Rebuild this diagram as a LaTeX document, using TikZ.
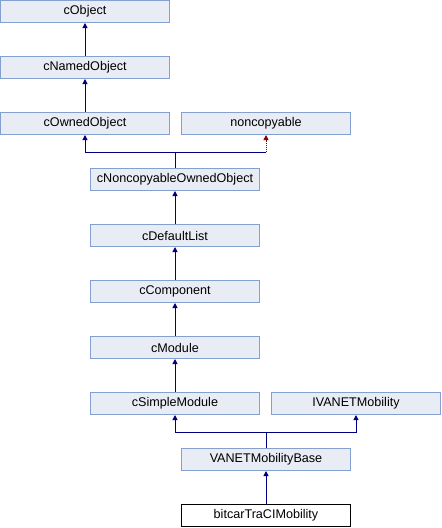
\documentclass[tikz,border=0pt]{standalone}
\usepackage{fontspec}
\setmainfont{Liberation Sans}
\usetikzlibrary{arrows.meta}
\definecolor{boxfill}{HTML}{E8ECF4}
\definecolor{boxline}{HTML}{84A0D0}
\definecolor{publine}{HTML}{000080}
\definecolor{privline}{HTML}{8B0000}
\tikzset{
    cls/.style={draw=boxline,fill=boxfill,line width=1pt,minimum width=169pt,minimum height=22pt,inner sep=0pt,font=\fontsize{12.6}{15}\selectfont},
    leaf/.style={cls,draw=black,fill=white},
    pub/.style={draw=publine,line width=1pt,-{Triangle[length=5pt,width=5pt]}},
    priv/.style={draw=privline,line width=1pt,densely dotted,-{Triangle[length=5pt,width=5pt]}}
}

\begin{document}
\begin{tikzpicture}[x=1pt,y=-1pt]
        \useasboundingbox (0,0) rectangle (442,528);

        % 1. Left column (top of the hierarchy)
        \node (cobject) at (85,11.5) [cls] {cObject};
        \node (cnamedobject) at (85,67.5) [cls] {cNamedObject};
        \node (cownedobject) at (85,123.5) [cls] {cOwnedObject};
        \node (noncopyable) at (266,123.5) [cls] {noncopyable};

        \draw[pub] (cnamedobject.north) -- (cobject.south);
        \draw[pub] (cownedobject.north) -- (cnamedobject.south);

        % 2. Middle column
        \node (cnoncopyable) at (175,179.5) [cls] {cNoncopyableOwnedObject};
        \node (cdefaultlist) at (175,235.5) [cls] {cDefaultList};
        \node (ccomponent) at (175,291.5) [cls] {cComponent};
        \node (cmodule) at (175,347.5) [cls] {cModule};
        \node (csimplemodule) at (175,403.5) [cls] {cSimpleModule};
        \node (ivanet) at (356,403.5) [cls] {IVANETMobility};

        % Two parents joined above cNoncopyableOwnedObject
        \coordinate (j1) at (175,152);
        \coordinate (j1r) at (noncopyable.south |- j1);
        \draw[pub] (cnoncopyable.north) -- (j1) -| (cownedobject.south);
        \draw[publine,line width=1pt] (j1) -- (j1r);
        \draw[priv] (j1r) -- (noncopyable.south);

        \draw[pub] (cdefaultlist.north) -- (cnoncopyable.south);
        \draw[pub] (ccomponent.north) -- (cdefaultlist.south);
        \draw[pub] (cmodule.north) -- (ccomponent.south);
        \draw[pub] (csimplemodule.north) -- (cmodule.south);

        % 3. Bottom (VANET classes)
        \node (vanetbase) at (266,459.5) [cls] {VANETMobilityBase};
        \node (bitcar) at (266,515.5) [leaf] {bitcarTraCIMobility};

        \coordinate (j2) at (266,432);
        \draw[pub] (vanetbase.north) -- (j2) -| (csimplemodule.south);
        \draw[pub] (j2) -| (ivanet.south);

        \draw[pub] (bitcar.north) -- (vanetbase.south);
\end{tikzpicture}
\end{document}
